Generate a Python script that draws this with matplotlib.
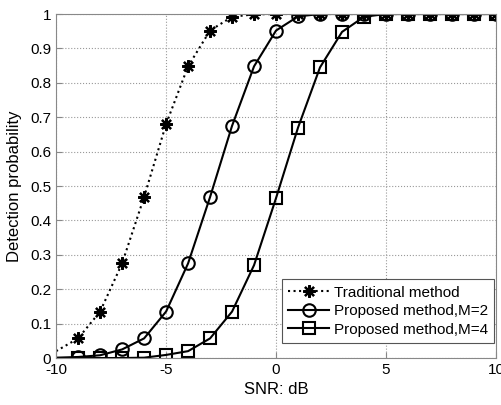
import numpy as np
import matplotlib.pyplot as plt

plt.rcParams["font.family"] = ["Liberation Sans", "DejaVu Sans"]
plt.rcParams["axes.unicode_minus"] = False

snr_db = [-10, -9, -8, -7, -6, -5, -4, -3, -2, -1, 0, 1, 2, 3, 4, 5, 6, 7, 8, 9, 10]
p_traditional = [0.02, 0.057, 0.135, 0.275, 0.468, 0.68, 0.848, 0.952, 0.992, 0.999, 1.0,
                 1.0, 1.0, 1.0, 1.0, 1.0, 1.0, 1.0, 1.0, 1.0, 1.0]
p_m2 = [0.001, 0.003, 0.008, 0.025, 0.057, 0.135, 0.275, 0.468, 0.675, 0.848, 0.952,
        0.993, 1.0, 1.0, 1.0, 1.0, 1.0, 1.0, 1.0, 1.0, 1.0]
p_m4 = [0.0, 0.0, 0.0, 0.0, 0.001, 0.009, 0.02, 0.057, 0.135, 0.27, 0.465,
        0.67, 0.845, 0.948, 0.992, 1.0, 1.0, 1.0, 1.0, 1.0, 1.0]

labels = ["Traditional method", "Proposed method,M=2", "Proposed method,M=4"]

fig = plt.figure(figsize=(5.01, 4.05), dpi=100)
ax = fig.add_axes([0.112, 0.116, 0.878, 0.8494])

marks = list(range(1, len(snr_db)))
# matlab-like asterisk: 8 spokes
ax.plot(snr_db, p_traditional, linestyle=":", color="black", linewidth=1.5,
        marker=(8, 2, 0), markersize=9, markeredgewidth=1.6, markevery=marks,
        label=labels[0])
ax.plot(snr_db, p_m2, linestyle="-", color="black", linewidth=1.5,
        marker="o", markersize=9, markerfacecolor="none", markeredgewidth=1.5,
        markevery=marks, label=labels[1])
ax.plot(snr_db, p_m4, linestyle="-", color="black", linewidth=1.5,
        marker="s", markersize=8.5, markerfacecolor="none", markeredgewidth=1.5,
        markevery=marks, label=labels[2])

ax.set_xlim(-10, 10)
ax.set_ylim(0, 1)
ax.set_xticks([-10, -5, 0, 5, 10])
ax.set_yticks(np.arange(0, 1.01, 0.1))
ax.set_yticklabels(["0", "0.1", "0.2", "0.3", "0.4", "0.5", "0.6", "0.7", "0.8", "0.9", "1"])
ax.grid(True, linestyle=":", color="#999999", linewidth=0.8)
ax.tick_params(direction="in", labelsize=11, length=4, color="#888888")
for s in ax.spines.values():
    s.set_color("#888888")

ax.set_xlabel("SNR: dB", fontsize=12)
ax.set_ylabel("Detection probability", fontsize=12, labelpad=6)

leg = ax.legend(loc="lower right", bbox_to_anchor=(0.996, 0.044), fontsize=11,
                fancybox=False, framealpha=1, edgecolor="#555555", borderpad=0.4,
                labelspacing=0.3, handlelength=2.7, handletextpad=0.3,
                borderaxespad=0)
leg.get_frame().set_linewidth(0.8)

fig.savefig("out.png", dpi=100)
